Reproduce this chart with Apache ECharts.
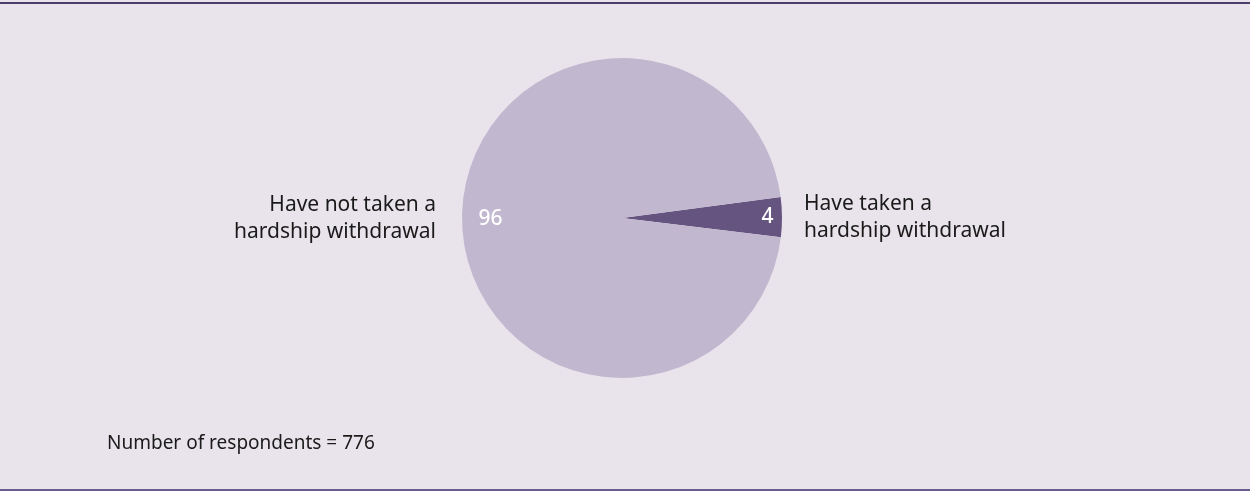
<!DOCTYPE html>
<html>
<head>
<meta charset="utf-8">
<title>Hardship withdrawals</title>
<script src="https://cdn.jsdelivr.net/npm/echarts@6/dist/echarts.min.js"></script>
<style>
  html, body { margin: 0; padding: 0; background: #e9e4ec; }
  #chart { width: 1250px; height: 491px; }
</style>
</head>
<body>
<div id="chart"></div>
<script>
// Share of respondents (%) by hardship-withdrawal status
const categories = ['Have taken a\nhardship withdrawal', 'Have not taken a\nhardship withdrawal'];
const shares = [4, 96];
const respondents = 776;

const sliceColors = ['#65547f', '#c1b8cf'];
const FONT = '"Noto Sans", "Open Sans", sans-serif';
const CX = 622, CY = 218, R = 160;

const chart = echarts.init(document.getElementById('chart'), null, { renderer: 'canvas' });

const pieData = categories.map((name, i) => ({
  name: name,
  value: shares[i],
  itemStyle: { color: sliceColors[i] }
}));

chart.setOption({
  backgroundColor: '#e9e4ec',
  animation: false,
  series: [
    {
      // slices with their category names outside
      type: 'pie',
      center: [CX, CY],
      radius: [0, R],
      startAngle: 7.5,
      clockwise: true,
      silent: true,
      data: pieData,
      itemStyle: { borderWidth: 0 },
      label: {
        show: true,
        position: 'outside',
        formatter: '{b}',
        color: '#1a1a1a',
        fontFamily: FONT,
        fontSize: 21,
        lineHeight: 27,
        distanceToLabelLine: 4
      },
      labelLine: { show: false, length: 4, length2: 14 },
      labelLayout: function (params) {
        return params.dataIndex === 1 ? { dx: -4 } : {};
      }
    },
    {
      // value labels near the rim of each slice
      type: 'pie',
      center: [CX, CY],
      radius: [101, R],
      startAngle: 7.5,
      clockwise: true,
      silent: true,
      data: pieData.map(d => ({ name: d.name, value: d.value, itemStyle: { color: 'rgba(0,0,0,0)' } })),
      label: {
        show: true,
        position: 'inside',
        formatter: '{c}',
        color: '#ffffff',
        fontFamily: FONT,
        fontSize: 21,
        fontWeight: 500
      },
      labelLine: { show: false },
      labelLayout: function (params) {
        return params.dataIndex === 0 ? { dx: 12 } : { dx: 2 };
      }
    }
  ],
  graphic: [
    { type: 'rect', shape: { x: 0, y: 2, width: 1250, height: 2 }, style: { fill: '#4b3e6c' }, silent: true },
    { type: 'rect', shape: { x: 0, y: 489, width: 1250, height: 2 }, style: { fill: '#6a5a8e' }, silent: true },
    {
      type: 'text',
      left: 107,
      top: 434,
      style: {
        text: 'Number of respondents = ' + respondents,
        fill: '#1a1a1a',
        font: '19px ' + FONT
      },
      silent: true
    }
  ]
});
</script>
</body>
</html>
